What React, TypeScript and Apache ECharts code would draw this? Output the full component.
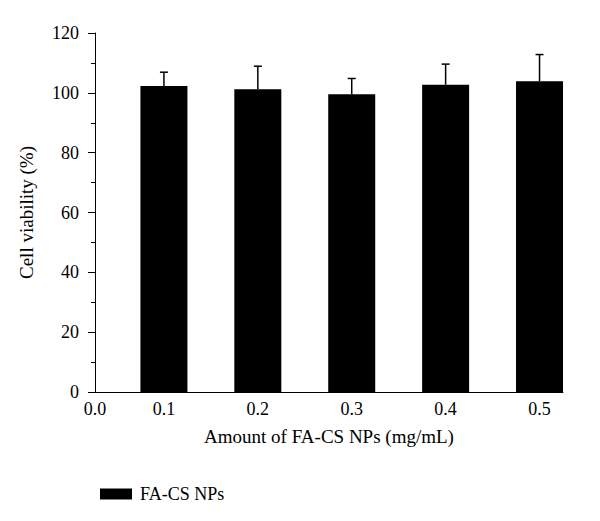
import React, { useEffect, useRef } from "react";
import * as echarts from "echarts";

const xValues = [0.1, 0.2, 0.3, 0.4, 0.5];
const viability = [102.3, 101.2, 99.5, 102.7, 103.9];
const errors = [4.6, 7.7, 5.3, 6.9, 8.9];
const xTickLabels = ["0.0", "0.1", "0.2", "0.3", "0.4", "0.5"];
const seriesName = "FA-CS NPs";
const xAxisMin = 0.0266;
const xAxisMax = 0.525;

const FONT = "'Liberation Serif', 'DejaVu Serif', serif";

export default function App() {
  const ref = useRef<HTMLDivElement>(null);
  useEffect(() => {
    if (!ref.current) return;
    const chart = echarts.init(ref.current, null, { renderer: "svg" });
    const barData = xValues.map((x, i) => [x, viability[i]]);
    const errData = xValues.map((x, i) => [x, viability[i], viability[i] + errors[i]]);
    chart.setOption({
      animation: false,
      backgroundColor: "#ffffff",
      grid: { left: 95, right: 37, top: 33, bottom: 129 },
      legend: {
        left: 95,
        top: 480,
        icon: "rect",
        itemWidth: 32,
        itemHeight: 11,
        data: [seriesName],
        textStyle: { fontFamily: FONT, fontSize: 18, color: "#000", padding: [0, 0, 0, 3] },
      },
      xAxis: {
        type: "value",
        min: xAxisMin,
        max: xAxisMax,
        name: "Amount of FA-CS NPs (mg/mL)",
        nameLocation: "middle",
        nameGap: 35,
        nameTextStyle: { fontFamily: FONT, fontSize: 19, color: "#000" },
        axisLine: { show: true, lineStyle: { color: "#000", width: 1 } },
        axisTick: { show: false },
        splitLine: { show: false },
        axisLabel: {
          customValues: [xAxisMin, ...xValues],
          formatter: (v: number) => xTickLabels[Math.round(v * 10)],
          fontFamily: FONT,
          fontSize: 18,
          color: "#000",
          margin: 8,
          showMinLabel: true,
          showMaxLabel: true,
        },
      },
      yAxis: {
        type: "value",
        min: 0,
        max: 120,
        interval: 20,
        name: "Cell viability (%)",
        nameLocation: "middle",
        nameGap: 59,
        nameTextStyle: { fontFamily: FONT, fontSize: 19, color: "#000" },
        axisLine: { show: true, lineStyle: { color: "#000", width: 1 } },
        axisTick: { show: true, length: 7, lineStyle: { color: "#000" } },
        minorTick: { show: true, splitNumber: 2, length: 4, lineStyle: { color: "#000" } },
        splitLine: { show: false },
        axisLabel: { fontFamily: FONT, fontSize: 18, color: "#000", margin: 16 },
      },
      series: [
        {
          name: seriesName,
          type: "bar",
          data: barData,
          barWidth: 47,
          itemStyle: { color: "#000" },
        },
        {
          type: "custom",
          data: errData,
          z: 1,
          renderItem: (params: any, api: any) => {
            const x = api.value(0);
            const top = api.coord([x, api.value(2)]);
            const base = api.coord([x, api.value(1)]);
            const half = 4;
            return {
              type: "group",
              children: [
                {
                  type: "line",
                  shape: { x1: top[0], y1: base[1], x2: top[0], y2: top[1] },
                  style: { stroke: "#000", lineWidth: 1.5 },
                },
                {
                  type: "line",
                  shape: { x1: top[0] - half, y1: top[1], x2: top[0] + half, y2: top[1] },
                  style: { stroke: "#000", lineWidth: 1.5 },
                },
              ],
            };
          },
        },
      ],
    });
    return () => chart.dispose();
  }, []);
  return (
    <div
      ref={ref}
      style={{ position: "absolute", left: 0, top: 0, width: 600, height: 521 }}
    />
  );
}
